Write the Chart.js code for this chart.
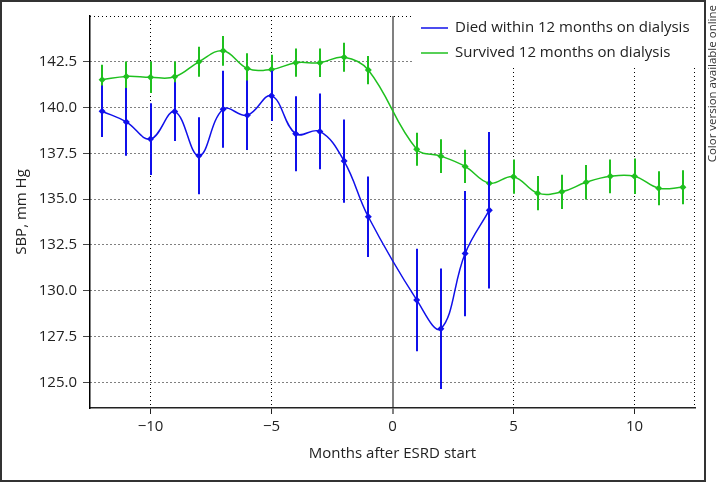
<!DOCTYPE html>
<html>
<head>
<meta charset="utf-8">
<script src="https://cdn.jsdelivr.net/npm/chart.js@4.4.0/dist/chart.umd.min.js"></script>
<style>
  html, body { margin: 0; padding: 0; background: #fff; }
  #wrap { width: 721px; height: 483px; }
</style>
</head>
<body>
<div id="wrap"><canvas id="sbp"></canvas></div>
<script>
// months relative to ESRD start (no point at month 0)
const monthsDied = [-12, -11, -10, -9, -8, -7, -6, -5, -4, -3, -2, -1, 1, 2, 3, 4]
const sbpDied = [139.8, 139.22, 138.28, 139.78, 137.37, 139.91, 139.58, 140.64, 138.57, 138.7, 137.08, 134.04, 129.5, 127.93, 132.03, 134.4]
const errDied = [1.4, 1.85, 1.96, 1.6, 2.1, 2.1, 1.9, 1.37, 2.05, 2.07, 2.27, 2.2, 2.8, 3.29, 3.42, 4.27]

const monthsSurv = [-12, -11, -10, -9, -8, -7, -6, -5, -4, -3, -2, -1, 1, 2, 3, 4, 5, 6, 7, 8, 9, 10, 11, 12]
const sbpSurv = [141.52, 141.7, 141.65, 141.68, 142.5, 143.1, 142.14, 142.08, 142.45, 142.45, 142.75, 142.05, 137.73, 137.35, 136.79, 135.87, 136.23, 135.33, 135.4, 135.92, 136.25, 136.25, 135.6, 135.65]
const errSurv = [0.82, 0.82, 0.86, 0.83, 0.82, 0.81, 0.82, 0.8, 0.77, 0.78, 0.79, 0.77, 0.9, 0.92, 0.91, 0.93, 0.94, 0.93, 0.94, 0.94, 0.92, 0.97, 0.93, 0.93]

const xTicks = [-10, -5, 0, 5, 10]
const yTicks = [125, 127.5, 130, 132.5, 135, 137.5, 140, 142.5]

const BLUE = '#1010ea'
const GREEN = '#1fc01f'
const FONT = "'Open Sans', 'Noto Sans', sans-serif"

const toPoints = (xs, ys) => xs.map((x, i) => ({ x: x, y: ys[i] }))

// vertical error bars, drawn right after each dataset
const errorBars = {
  id: 'errorBars',
  afterDatasetDraw(chart, args) {
    const ds = chart.data.datasets[args.index]
    if (!ds.errors) return
    const { ctx, scales: { x, y } } = chart
    ctx.save()
    ctx.strokeStyle = ds.borderColor
    ctx.lineWidth = 2
    ds.data.forEach((p, i) => {
      const px = Math.round(x.getPixelForValue(p.x))
      ctx.beginPath()
      ctx.moveTo(px, y.getPixelForValue(p.y - ds.errors[i]))
      ctx.lineTo(px, y.getPixelForValue(p.y + ds.errors[i]))
      ctx.stroke()
    })
    ctx.restore()
  }
}

// dotted top/right box edges
const boxEdges = {
  id: 'boxEdges',
  beforeDatasetsDraw(chart) {
    const { ctx, chartArea: a } = chart
    ctx.save()
    ctx.strokeStyle = '#000'
    ctx.lineWidth = 1
    ctx.setLineDash([1, 3])
    ctx.beginPath()
    ctx.moveTo(a.left, a.top + 0.5)
    ctx.lineTo(a.right, a.top + 0.5)
    ctx.moveTo(a.right - 0.5, a.top)
    ctx.lineTo(a.right - 0.5, a.bottom)
    ctx.stroke()
    ctx.restore()
  }
}

// legend in the top right corner + outer frame + side note
const extras = {
  id: 'extras',
  afterDraw(chart) {
    const { ctx, chartArea: a } = chart
    ctx.save()
    const bx = a.right - 282
    ctx.fillStyle = '#fff'
    ctx.fillRect(bx, a.top - 1, a.right - bx + 1, 53)
    ctx.font = '15px ' + FONT
    ctx.textBaseline = 'middle'
    chart.data.datasets.forEach((ds, i) => {
      const cy = a.top + 12 + i * 25
      ctx.strokeStyle = ds.borderColor
      ctx.lineWidth = 1.5
      ctx.beginPath()
      ctx.moveTo(bx + 8, cy)
      ctx.lineTo(bx + 35, cy)
      ctx.stroke()
      ctx.fillStyle = '#222'
      ctx.fillText(ds.label, bx + 42, cy)
    })
    ctx.strokeStyle = '#333'
    ctx.lineWidth = 2
    ctx.strokeRect(1, 1, 704, 480)
    ctx.translate(713, 5)
    ctx.rotate(-Math.PI / 2)
    ctx.font = '11.5px ' + FONT
    ctx.fillStyle = '#333'
    ctx.textAlign = 'right'
    ctx.fillText('Color version available online', 0, 0)
    ctx.restore()
  }
}

new Chart(document.getElementById('sbp'), {
  type: 'line',
  data: {
    datasets: [
      {
        label: 'Died within 12 months on dialysis',
        data: toPoints(monthsDied, sbpDied),
        errors: errDied,
        borderColor: BLUE,
        backgroundColor: BLUE,
        borderWidth: 1.5,
        tension: 0.4,
        pointStyle: 'rectRot',
        pointRadius: 3.5,
        pointBorderWidth: 0
      },
      {
        label: 'Survived 12 months on dialysis',
        data: toPoints(monthsSurv, sbpSurv),
        errors: errSurv,
        borderColor: GREEN,
        backgroundColor: GREEN,
        borderWidth: 1.5,
        tension: 0.4,
        pointStyle: 'rectRot',
        pointRadius: 3.5,
        pointBorderWidth: 0
      }
    ]
  },
  options: {
    responsive: true,
    maintainAspectRatio: false,
    animation: false,
    devicePixelRatio: 1,
    layout: { padding: { left: 8, top: 16, right: 26, bottom: 12 } },
    plugins: {
      legend: { display: false },
      tooltip: { enabled: false }
    },
    scales: {
      x: {
        type: 'linear',
        min: -12.5,
        max: 12.5,
        afterBuildTicks: s => { s.ticks = xTicks.map(v => ({ value: v })) },
        afterFit: s => { s.height = 63 },
        grid: {
          color: c => (c.tick && c.tick.value === 0 ? '#808080' : '#000'),
          lineWidth: c => (c.tick && c.tick.value === 0 ? 2 : 1),
          tickLength: 6,
          tickBorderDash: [],
          tickColor: c => (c.tick && c.tick.value === 0 ? '#808080' : '#222')
        },
        border: {
          color: '#222',
          width: 1.5,
          dash: c => (c.tick && c.tick.value === 0 ? [] : [1, 3])
        },
        ticks: {
          padding: 4,
          color: '#222',
          font: { family: FONT, size: 15 },
          maxRotation: 0,
          callback: v => (v < 0 ? '\u2212' + Math.abs(v) : String(v))
        },
        title: {
          display: true,
          text: 'Months after ESRD start',
          color: '#222',
          font: { family: FONT, size: 15 },
          padding: { top: 0, bottom: 8 }
        }
      },
      y: {
        min: 123.6,
        max: 145,
        afterBuildTicks: s => { s.ticks = yTicks.map(v => ({ value: v })) },
        afterFit: s => { s.width = 82 },
        grid: {
          color: '#000',
          lineWidth: 1,
          tickLength: 7,
          tickBorderDash: [],
          tickColor: '#444'
        },
        border: { color: '#000', width: 1.5, dash: [1, 3] },
        ticks: {
          padding: 6,
          color: '#222',
          font: { family: FONT, size: 15 },
          callback: v => v.toFixed(1)
        },
        title: {
          display: true,
          text: 'SBP, mm Hg',
          color: '#222',
          font: { family: FONT, size: 15 },
          padding: { top: 5, bottom: 0 }
        }
      }
    }
  },
  plugins: [errorBars, boxEdges, extras]
})
</script>
</body>
</html>
